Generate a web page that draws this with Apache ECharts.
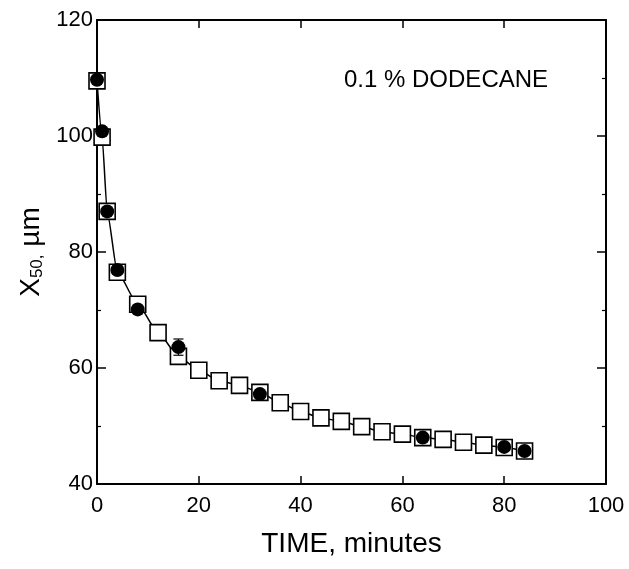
<!DOCTYPE html>
<html>
<head>
<meta charset="utf-8">
<script src="https://cdn.jsdelivr.net/npm/echarts@6/dist/echarts.min.js"></script>
<style>html,body{margin:0;padding:0;background:#fff;}#c{width:629px;height:569px;}</style>
</head>
<body>
<div id="c"></div>
<script>
const squareTimes = [0, 1, 2, 4, 8, 12, 16, 20, 24, 28, 32, 36, 40, 44, 48, 52, 56, 60, 64, 68, 72, 76, 80, 84];
const squareValues = [109.5, 99.8, 87.0, 76.5, 71.0, 66.1, 62.0, 59.6, 57.8, 57.0, 55.8, 54.0, 52.5, 51.4, 50.8, 49.9, 49.0, 48.6, 48.0, 47.7, 47.2, 46.7, 46.3, 45.7];
const circleTimes = [0, 1, 2, 4, 8, 16, 32, 64, 80, 84];
const circleValues = [109.7, 100.8, 87.0, 76.9, 70.1, 63.6, 55.5, 48.0, 46.4, 45.7];
const errTimes = [16];
const errLow = [62.2];
const errHigh = [65.0];
const xTicks = [0, 20, 40, 60, 80, 100];
const yTicks = [40, 60, 80, 100, 120];

const FONT = 'Liberation Sans';
const chart = echarts.init(document.getElementById('c'), null, {renderer: 'canvas'});

const zip = (a, b) => a.map((v, i) => [v, b[i]]);

const baseX = {
  type: 'value', min: xTicks[0], max: xTicks[xTicks.length - 1], interval: 20,
  axisLine: {show: true, onZero: false, lineStyle: {color: '#000', width: 2}},
  axisTick: {show: true, inside: true, length: 8, lineStyle: {color: '#000', width: 1.5}},
  splitLine: {show: false}
};
const baseY = {
  type: 'value', min: yTicks[0], max: yTicks[yTicks.length - 1], interval: 20,
  axisLine: {show: true, onZero: false, lineStyle: {color: '#000', width: 2}},
  axisTick: {show: true, inside: true, length: 9, lineStyle: {color: '#000', width: 1.5}},
  minorTick: {show: true, splitNumber: 2, length: 4, lineStyle: {color: '#000', width: 1.2}},
  splitLine: {show: false}
};

chart.setOption({
  backgroundColor: '#fff',
  animation: false,
  grid: {left: 97, right: 23, top: 20, bottom: 85, containLabel: false},
  xAxis: [
    Object.assign({}, baseX, {
      position: 'bottom',
      name: 'TIME, minutes', nameLocation: 'middle', nameGap: 46,
      nameTextStyle: {fontFamily: FONT, fontSize: 28, color: '#000'},
      axisLabel: {show: true, fontFamily: FONT, fontSize: 22, color: '#000', margin: 11}
    }),
    Object.assign({}, baseX, {position: 'top', axisLabel: {show: false}})
  ],
  yAxis: [
    Object.assign({}, baseY, {
      position: 'left',
      name: 'X{sub|50}{c|,} µm', nameLocation: 'middle', nameGap: 50, nameRotate: 90,
      nameTextStyle: {fontFamily: FONT, fontSize: 28, color: '#000',
        rich: {
          sub: {fontFamily: FONT, fontSize: 17, color: '#000', verticalAlign: 'bottom', padding: [12, 0, 0, 0]},
          c: {fontFamily: FONT, fontSize: 17, color: '#000', verticalAlign: 'bottom', padding: [12, 0, 0, 0]}
        }},
      axisLabel: {show: true, fontFamily: FONT, fontSize: 22, color: '#000', margin: 4}
    }),
    Object.assign({}, baseY, {position: 'right', axisLabel: {show: false}})
  ],
  graphic: [{
    type: 'text', left: 344, top: 68,
    style: {text: '0.1 % DODECANE', fontFamily: FONT, fontSize: 24, fill: '#000'}
  }],
  series: [
    {
      type: 'line', name: 'squares', data: zip(squareTimes, squareValues),
      smooth: 0.2, smoothMonotone: 'x', symbol: 'rect', symbolSize: 16, showAllSymbol: true,
      lineStyle: {color: '#000', width: 1.5},
      itemStyle: {color: '#fff', borderColor: '#000', borderWidth: 1.6},
      z: 2
    },
    {
      type: 'custom', name: 'err', data: errTimes.map((t, i) => [t, errLow[i], errHigh[i]]),
      renderItem: function (params, api) {
        const lo = api.coord([api.value(0), api.value(1)]);
        const hi = api.coord([api.value(0), api.value(2)]);
        const w = 5;
        return {type: 'group', children: [
          {type: 'line', shape: {x1: lo[0], y1: lo[1], x2: hi[0], y2: hi[1]}, style: {stroke: '#000', lineWidth: 1.2}},
          {type: 'line', shape: {x1: hi[0] - w, y1: hi[1], x2: hi[0] + w, y2: hi[1]}, style: {stroke: '#000', lineWidth: 1.2}},
          {type: 'line', shape: {x1: lo[0] - w, y1: lo[1], x2: lo[0] + w, y2: lo[1]}, style: {stroke: '#000', lineWidth: 1.2}}
        ]};
      },
      z: 3
    },
    {
      type: 'scatter', name: 'circles', data: zip(circleTimes, circleValues),
      symbol: 'circle', symbolSize: 14,
      itemStyle: {color: '#000', opacity: 1},
      z: 4
    }
  ]
});
</script>
</body>
</html>
